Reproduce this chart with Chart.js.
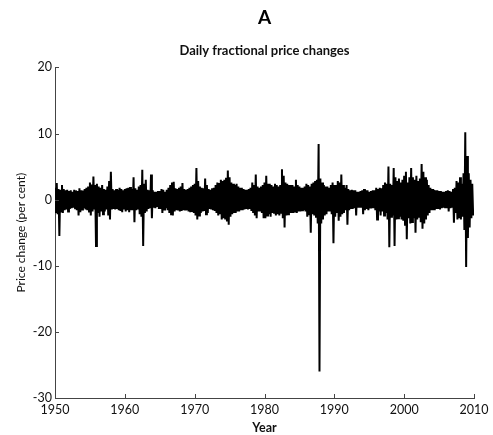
<!DOCTYPE html>
<html>
<head>
<meta charset="utf-8">
<script src="https://cdn.jsdelivr.net/npm/chart.js@4.4.1/dist/chart.umd.min.js"></script>
<style>
  html, body { margin: 0; padding: 0; background: #fff; }
  #wrap { width: 493px; height: 435px; }
</style>
</head>
<body>
<div id="wrap"><canvas id="priceChart" width="493" height="435"></canvas></div>
<script>
// quarterly envelope of daily changes (per cent)
const startYear = 1950;
const xTicks = [1950, 1960, 1970, 1980, 1990, 2000, 2010];
const yTicks = [-30, -20, -10, 0, 10, 20];

// highest daily rise in each quarter
const hi = [
  // 1950s
  1.8, 2.5, 1.6, 1.5,  2.2, 1.6, 1.4, 1.5,  1.3, 1.4, 1.2, 1.5,  1.4, 1.3, 1.7, 1.4,  1.4, 1.6, 1.8, 2.0,
  2.6, 2.3, 3.5, 2.2,  2.4, 2.0, 1.8, 2.2,  1.6, 1.5, 2.0, 2.8,  4.2, 1.6, 1.4, 1.6,  1.5, 1.8, 1.6, 1.4,
  // 1960s
  1.6, 1.7, 1.8, 1.9,  1.6, 3.4, 1.7, 1.5,  2.0, 2.2, 4.5, 2.4,  3.0, 1.5, 1.4, 3.8,  1.4, 1.2, 1.2, 1.3,
  1.3, 1.6, 1.5, 1.2,  1.5, 1.8, 2.2, 2.6,  2.7, 1.7, 1.6, 1.8,  2.0, 2.5, 1.6, 1.5,  1.6, 1.8, 2.0, 2.2,
  // 1970s
  2.4, 4.8, 2.8, 2.0,  1.8, 1.7, 3.2, 2.2,  1.6, 1.5, 1.7, 1.8,  2.2, 2.6, 2.5, 3.0,  2.8, 3.0, 3.3, 4.4,
  3.4, 2.6, 2.4, 2.2,  2.4, 2.0, 1.8, 1.8,  1.6, 1.5, 1.5, 1.6,  1.8, 2.6, 2.2, 3.8,  2.0, 1.8, 2.0, 2.2,
  // 1980s
  2.6, 3.6, 2.4, 2.4,  2.2, 2.0, 2.4, 2.2,  2.0, 2.2, 4.6, 3.6,  2.6, 2.4, 2.2, 2.2,  2.2, 2.0, 3.0, 2.2,
  2.0, 1.8, 1.8, 2.0,  2.4, 2.2, 2.0, 2.4,  2.6, 2.8, 3.0, 8.4,  3.2, 2.6, 2.2, 2.0,  2.0, 1.8, 2.2, 2.6,
  // 1990s
  2.2, 2.2, 2.8, 2.6,  3.8, 2.2, 1.8, 2.2,  1.6, 1.4, 1.5, 1.4,  1.4, 1.2, 1.2, 1.3,  1.4, 1.6, 1.4, 1.4,
  1.2, 1.3, 1.4, 1.4,  1.8, 1.6, 1.8, 1.7,  2.2, 2.6, 2.4, 5.0,  2.4, 2.2, 4.8, 3.4,  2.8, 3.2, 2.6, 3.0,
  // 2000s
  3.6, 4.2, 2.6, 3.4,  4.8, 3.4, 3.0, 3.6,  2.8, 3.2, 5.4, 4.2,  3.4, 3.0, 2.2, 1.8,  1.6, 1.5, 1.4, 1.4,
  1.3, 1.3, 1.2, 1.2,  1.3, 1.4, 1.3, 1.2,  1.6, 1.8, 2.8, 2.6,  3.4, 2.4, 4.0, 10.2, 6.6, 4.0, 3.0, 2.4
];

// deepest daily fall in each quarter
const lo = [
  // 1950s
  -2.0, -2.2, -5.5, -1.8,  -2.0, -1.6, -1.5, -1.8,  -1.4, -1.3, -1.2, -1.3,  -1.6, -2.4, -1.9, -1.5,  -1.3, -1.5, -1.6, -1.8,
  -2.4, -1.8, -1.5, -7.0,  -2.0, -2.6, -1.8, -2.2,  -1.8, -1.5, -2.4, -3.0,  -1.5, -1.4, -1.5, -1.4,  -1.6, -1.7, -1.9, -1.5,
  // 1960s
  -1.8, -1.6, -1.9, -1.6,  -1.6, -3.4, -1.6, -1.5,  -2.2, -2.6, -7.0, -2.0,  -1.8, -1.4, -1.3, -2.8,  -1.2, -1.3, -1.1, -1.4,
  -1.4, -2.0, -1.5, -1.3,  -1.6, -2.0, -2.2, -2.4,  -1.8, -1.6, -1.5, -1.8,  -1.7, -1.6, -1.5, -1.6,  -1.8, -1.9, -1.7, -2.0,
  // 1970s
  -2.4, -3.0, -2.4, -2.0,  -1.8, -1.7, -2.2, -2.0,  -1.4, -1.5, -1.6, -1.7,  -2.0, -2.4, -2.2, -3.0,  -2.8, -3.0, -3.3, -3.8,
  -2.6, -2.2, -2.0, -2.0,  -1.8, -1.8, -1.6, -1.6,  -1.5, -1.4, -1.5, -1.4,  -1.7, -2.0, -2.4, -2.8,  -1.8, -1.8, -2.0, -2.8,
  // 1980s
  -2.8, -2.4, -2.2, -2.6,  -2.0, -2.0, -2.4, -2.2,  -2.4, -2.0, -2.8, -4.2,  -2.4, -2.2, -2.0, -2.0,  -2.0, -1.8, -2.0, -1.8,
  -1.8, -1.6, -1.6, -1.8,  -2.6, -2.2, -5.0, -2.2,  -2.4, -2.6, -3.6, -26.0, -3.6, -3.0, -2.4, -2.2,  -1.8, -1.8, -2.2, -6.6,
  // 1990s
  -2.6, -2.0, -3.2, -2.6,  -2.2, -2.0, -1.6, -3.8,  -1.6, -1.4, -1.4, -1.3,  -2.4, -1.2, -1.2, -1.2,  -2.2, -1.6, -1.4, -1.6,
  -1.2, -1.3, -1.3, -1.6,  -3.0, -1.8, -2.4, -1.8,  -2.4, -2.0, -3.0, -7.2,  -2.6, -2.4, -7.0, -3.0,  -2.8, -2.6, -3.0, -3.2,
  // 2000s
  -3.8, -6.0, -2.8, -3.6,  -3.4, -2.8, -5.0, -3.0,  -2.6, -3.4, -4.4, -3.6,  -3.0, -2.4, -2.0, -1.6,  -1.6, -1.6, -1.4, -1.4,
  -1.5, -1.3, -1.2, -1.3,  -1.3, -1.8, -1.3, -1.2,  -3.5, -2.0, -3.0, -2.8,  -3.0, -2.6, -4.6, -10.2, -5.8, -4.2, -2.8, -2.4
];

// zigzag through the rises and falls of each quarter
const points = [];
hi.forEach((h, i) => {
  const t = startYear + i * 0.25;
  points.push({ x: t, y: h });
  points.push({ x: t + 0.125, y: lo[i] });
});

const font = "Lato, 'Open Sans', sans-serif";
const axisColor = "#444";

// short tick marks pointing into the plot
const inwardTicks = {
  id: "inwardTicks",
  afterDatasetsDraw(chart) {
    const { ctx, chartArea: a, scales: { x, y } } = chart;
    ctx.save();
    ctx.strokeStyle = axisColor;
    ctx.lineWidth = 1;
    xTicks.forEach(v => {
      const px = Math.round(x.getPixelForValue(v)) + 0.5;
      ctx.beginPath();
      ctx.moveTo(px, a.bottom);
      ctx.lineTo(px, a.bottom - 4);
      ctx.stroke();
    });
    yTicks.forEach(v => {
      const py = Math.round(y.getPixelForValue(v)) + 0.5;
      ctx.beginPath();
      ctx.moveTo(a.left, py);
      ctx.lineTo(a.left + 4, py);
      ctx.stroke();
    });
    ctx.restore();
  }
};

new Chart(document.getElementById("priceChart"), {
  type: "line",
  data: {
    datasets: [{
      data: points,
      borderColor: "#000",
      borderWidth: 2,
      pointRadius: 0,
      tension: 0,
      fill: false
    }]
  },
  options: {
    responsive: false,
    animation: false,
    events: [],
    layout: { padding: { left: 14, right: 19, top: 0, bottom: 0 } },
    plugins: {
      legend: { display: false },
      tooltip: { enabled: false },
      title: {
        display: true,
        fullSize: false,
        text: "A",
        color: "#000",
        font: { family: font, size: 19, weight: "bold" },
        padding: { top: 6, bottom: 14 }
      },
      subtitle: {
        display: true,
        fullSize: false,
        text: "Daily fractional price changes",
        color: "#111",
        font: { family: font, size: 13, weight: "bold" },
        padding: { top: 0, bottom: 9 }
      }
    },
    scales: {
      x: {
        type: "linear",
        min: 1950,
        max: 2010,
        afterBuildTicks: s => { s.ticks = xTicks.map(v => ({ value: v })); },
        afterFit: s => { s.height = 37; },
        ticks: {
          color: "#111",
          font: { family: font, size: 12.5 },
          padding: 4,
          maxRotation: 0,
          callback: v => String(v)
        },
        grid: { display: false, drawTicks: false },
        border: { display: true, color: axisColor, width: 1 },
        title: {
          display: true,
          text: "Year",
          color: "#111",
          font: { family: font, size: 12.5, weight: "bold" },
          padding: 0
        }
      },
      y: {
        min: -30,
        max: 20,
        afterBuildTicks: s => { s.ticks = yTicks.map(v => ({ value: v })); },
        afterFit: s => { s.width = 41; },
        ticks: {
          color: "#111",
          font: { family: font, size: 12.5 },
          padding: 3,
          callback: v => String(v)
        },
        grid: { display: false, drawTicks: false },
        border: { display: true, color: axisColor, width: 1 },
        title: {
          display: true,
          text: "Price change (per cent)",
          color: "#111",
          font: { family: font, size: 12 },
          padding: { top: 0, bottom: 4 }
        }
      }
    }
  },
  plugins: [inwardTicks]
});
</script>
</body>
</html>
